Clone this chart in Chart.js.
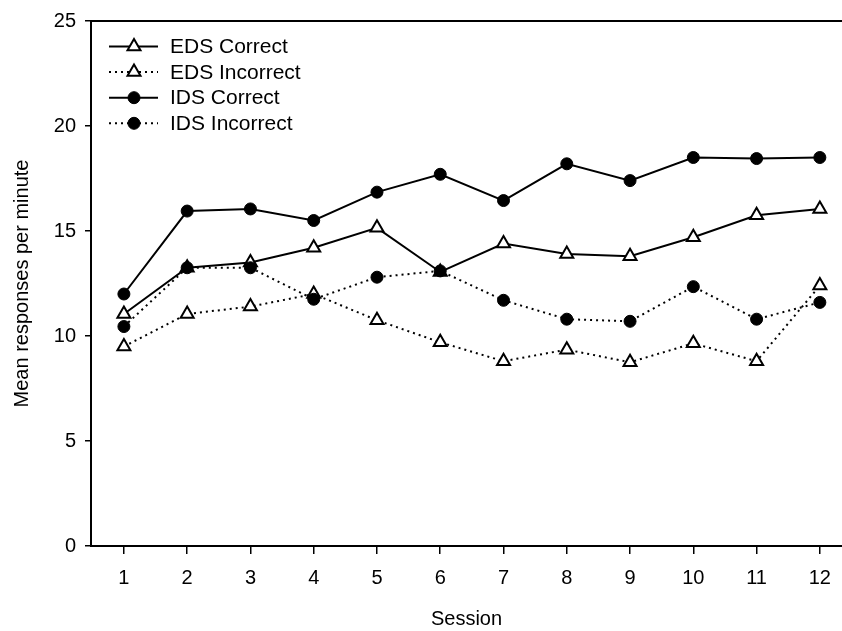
<!DOCTYPE html>
<html>
<head>
<meta charset="utf-8">
<script src="https://cdn.jsdelivr.net/npm/chart.js@4.4.0/dist/chart.umd.min.js"></script>
<style>
  html, body { margin: 0; padding: 0; background: #fff; }
  canvas { display: block; }
</style>
</head>
<body>
<canvas id="chart" width="842" height="631"></canvas>
<script>
// values
var sessions = [1, 2, 3, 4, 5, 6, 7, 8, 9, 10, 11, 12];
var yTicks = [0, 5, 10, 15, 20, 25];
var seriesNames = ['EDS Correct', 'EDS Incorrect', 'IDS Correct', 'IDS Incorrect'];
var edsCorrect   = [11.05, 13.25, 13.5, 14.2, 15.15, 13.05, 14.4, 13.9, 13.8, 14.7, 15.75, 16.05];
var edsIncorrect = [9.5, 11.05, 11.4, 12.0, 10.75, 9.7, 8.8, 9.35, 8.75, 9.65, 8.8, 12.4];
var idsCorrect   = [12.0, 15.95, 16.05, 15.5, 16.85, 17.7, 16.45, 18.2, 17.4, 18.5, 18.45, 18.5];
var idsIncorrect = [10.45, 13.25, 13.25, 11.75, 12.8, 13.1, 11.7, 10.8, 10.7, 12.35, 10.8, 11.6];

var FONT = "'Liberation Sans', Arial, sans-serif";

function toPoints(vals){
    var out = [];
    for (var i = 0; i < sessions.length; i++){
        out.push({x: sessions[i], y: vals[i]});
    }
    return out;
}

function makeSet(label, vals, dotted, tri){
    return {
        label: label,
        data: toPoints(vals),
        borderColor: '#000',
        borderWidth: 2,
        borderDash: dotted ? [2, 4] : [],
        pointStyle: tri ? 'triangle' : 'circle',
        pointRadius: tri ? 7.5 : 6,
        pointBorderWidth: tri ? 2 : 1,
        pointBackgroundColor: tri ? '#fff' : '#000',
        pointBorderColor: '#000',
        order: tri ? 1 : 0,
        tension: 0,
        fill: false
    };
}

// legend drawn by hand: line + marker + text, top left of the plot
var legendPlugin = {
    id: 'figLegend',
    afterDraw: function(chart){
        var ctx = chart.ctx;
        var sets = chart.data.datasets;
        ctx.save();
        for (var i = 0; i < sets.length; i++){
            var ds = sets[i];
            var y = 46.5 + i * 25.6;
            ctx.strokeStyle = '#000';
            ctx.lineWidth = 2;
            ctx.setLineDash(ds.borderDash);
            ctx.beginPath();
            ctx.moveTo(109, y);
            ctx.lineTo(158, y);
            ctx.stroke();
            ctx.setLineDash([]);
            var cx = 134;
            var r = ds.pointRadius;
            ctx.beginPath();
            if (ds.pointStyle === 'triangle'){
                for (var k = 0; k < 3; k++){
                    var a = k * 2 * Math.PI / 3;
                    var px = cx + Math.sin(a) * r, py = y - Math.cos(a) * r;
                    if (k === 0) ctx.moveTo(px, py); else ctx.lineTo(px, py);
                }
                ctx.closePath();
            } else {
                ctx.arc(cx, y, r, 0, Math.PI * 2);
            }
            ctx.fillStyle = ds.pointBackgroundColor;
            ctx.fill();
            ctx.lineWidth = ds.pointBorderWidth;
            ctx.stroke();
            ctx.fillStyle = '#000';
            ctx.font = '21px ' + FONT;
            ctx.textBaseline = 'middle';
            ctx.textAlign = 'left';
            ctx.fillText(ds.label, 170, y + 1);
        }
        ctx.restore();
    }
};

// top frame line
var frameTop = {
    id: 'frameTop',
    afterDraw: function(chart){
        var a = chart.chartArea;
        var ctx = chart.ctx;
        ctx.save();
        ctx.strokeStyle = '#000';
        ctx.lineWidth = 2;
        ctx.beginPath();
        ctx.moveTo(a.left - 1, a.top);
        ctx.lineTo(a.right, a.top);
        ctx.stroke();
        ctx.restore();
    }
};

var ctx = document.getElementById('chart').getContext('2d');
var myChart = new Chart(ctx, {
    type: 'line',
    data: {
        datasets: [
            makeSet(seriesNames[0], edsCorrect, false, true),
            makeSet(seriesNames[1], edsIncorrect, true, true),
            makeSet(seriesNames[2], idsCorrect, false, false),
            makeSet(seriesNames[3], idsIncorrect, true, false)
        ]
    },
    plugins: [legendPlugin, frameTop],
    options: {
        responsive: false,
        animation: false,
        layout: { autoPadding: false, padding: { top: 18, right: 0, bottom: 0, left: 0 } },
        plugins: { legend: { display: false }, tooltip: { enabled: false } },
        scales: {
            x: {
                type: 'linear',
                min: 0.48,
                max: 12.35,
                afterBuildTicks: function(scale){
                    scale.ticks = sessions.map(function(v){ return {value: v}; });
                },
                afterFit: function(scale){
                    scale.height = 85;
                    // plot runs to the right edge of the figure
                    scale.paddingRight = 0;
                    scale.paddingLeft = 0;
                },
                grid: { display: true, drawOnChartArea: false, drawTicks: true, tickLength: 8, color: '#000', lineWidth: 1.5 },
                border: { display: true, color: '#000', width: 2 },
                ticks: { color: '#000', padding: 12, font: { family: FONT, size: 20 }, maxRotation: 0, autoSkip: false },
                title: { display: true, text: 'Session', color: '#000', font: { family: FONT, size: 20 }, padding: { top: 0, bottom: 0 } }
            },
            y: {
                min: 0,
                max: 25,
                afterBuildTicks: function(scale){
                    scale.ticks = yTicks.map(function(v){ return {value: v}; });
                },
                afterFit: function(scale){ scale.width = 91; },
                grid: { display: true, drawOnChartArea: false, drawTicks: true, tickLength: 6, color: '#000', lineWidth: 1.5 },
                border: { display: true, color: '#000', width: 2 },
                ticks: { color: '#000', padding: 9, font: { family: FONT, size: 20 } },
                title: { display: true, text: 'Mean responses per minute', color: '#000', font: { family: FONT, size: 20 }, padding: { top: 10, bottom: 0 } }
            }
        }
    }
});
</script>
</body>
</html>
